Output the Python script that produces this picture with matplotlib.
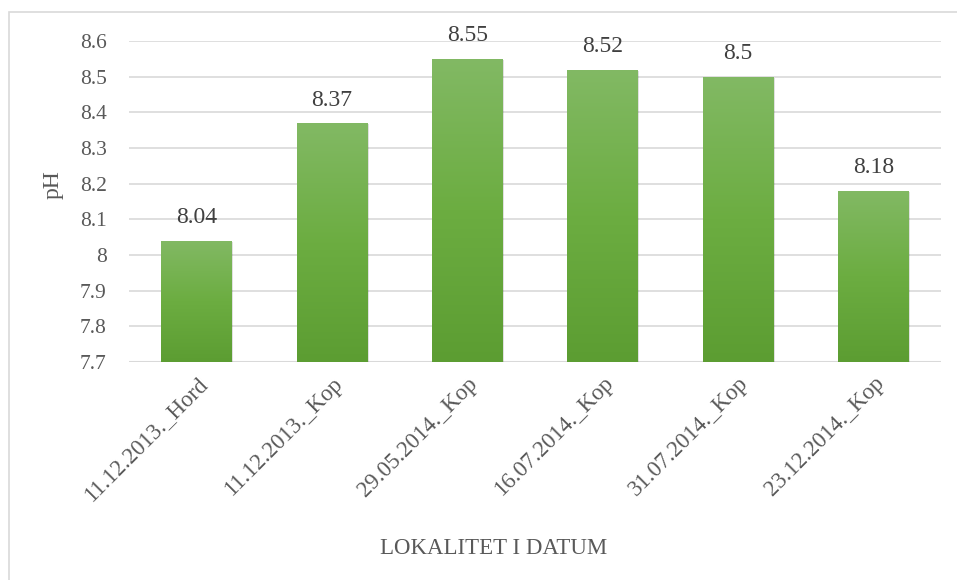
import matplotlib
matplotlib.use("Agg")
import matplotlib.pyplot as plt
import numpy as np
from matplotlib.patches import Rectangle
from matplotlib.colors import LinearSegmentedColormap

categories = ["11.12.2013._Hord", "11.12.2013._Kop", "29.05.2014._Kop",
              "16.07.2014._Kop", "31.07.2014._Kop", "23.12.2014._Kop"]
values = [8.04, 8.37, 8.55, 8.52, 8.5, 8.18]
value_labels = ["8.04", "8.37", "8.55", "8.52", "8.5", "8.18"]
yticks = [7.7, 7.8, 7.9, 8.0, 8.1, 8.2, 8.3, 8.4, 8.5, 8.6]
ytick_labels = ["7.7", "7.8", "7.9", "8", "8.1", "8.2", "8.3", "8.4", "8.5", "8.6"]

plt.rcParams['font.family'] = ['Liberation Serif', 'DejaVu Serif']
text_color = "#595959"
grid_color = "#d9d9d9"

fig = plt.figure(figsize=(9.57, 5.8), dpi=100)
ax = fig.add_axes([129/957, 1-362/580, (941-129)/957, (362-41)/580])

# figure border (top and left visible)
fig.patches.append(Rectangle((9/957, -0.1), 1.2, 1 - 12/580 + 0.1,
                             transform=fig.transFigure, fill=False,
                             edgecolor=grid_color, linewidth=1.2))

ymin, ymax = 7.7, 8.6
x = np.arange(len(categories))
width = 0.52
bars = ax.bar(x, [v - ymin for v in values], bottom=ymin, width=width,
              color="none", edgecolor="none", zorder=3)

cmap = LinearSegmentedColormap.from_list("g", ["#5c9d32", "#6cad41", "#82b964"])
grad = np.linspace(0, 1, 256).reshape(-1, 1)
for b in bars:
    x0, y0 = b.get_x(), b.get_y()
    w, h = b.get_width(), b.get_height()
    sh = Rectangle((x0 + 0.012, y0), w, h - 0.004, facecolor="#000000",
                   alpha=0.12, edgecolor="none", zorder=2)
    ax.add_patch(sh)
    im = ax.imshow(grad, extent=[x0, x0 + w, ymin, y0 + h], origin="lower",
                   cmap=cmap, aspect="auto", zorder=3, interpolation="bicubic",
                   vmin=0, vmax=1)
    im.set_clip_path(b)

for xi, v, lab in zip(x, values, value_labels):
    ax.annotate(lab, (xi, v), xytext=(0, 9), textcoords="offset points",
                ha="center", va="bottom", fontsize=17, color="#404040")

ax.set_xlim(-0.5, len(categories) - 0.5)
ax.set_ylim(ymin, ymax)
ax.set_yticks(yticks)
ax.set_yticklabels(ytick_labels)
ax.yaxis.grid(True, color=grid_color, linewidth=1.2, zorder=0)
ax.set_axisbelow(True)
for s in ax.spines.values():
    s.set_visible(False)
ax.tick_params(axis="both", length=0, colors=text_color)
ax.tick_params(axis="y", pad=16, labelsize=15.5)
ax.set_xticks(x)
ax.set_xticklabels(categories, rotation=45, ha="right", va="top",
                   rotation_mode="anchor", fontsize=16.5)
ax.tick_params(axis="x", pad=8)
ax.axhline(ymin, color=grid_color, linewidth=1.5, zorder=1)

fig.text(494/957, 1 - 548/580, "LOKALITET I DATUM", ha="center", va="center",
         fontsize=16.5, color=text_color)
fig.text(53/957, 1 - 185/580, "pH", ha="center", va="center", rotation=90,
         fontsize=17, color=text_color)

fig.savefig("out.png", dpi=100, facecolor="white")
